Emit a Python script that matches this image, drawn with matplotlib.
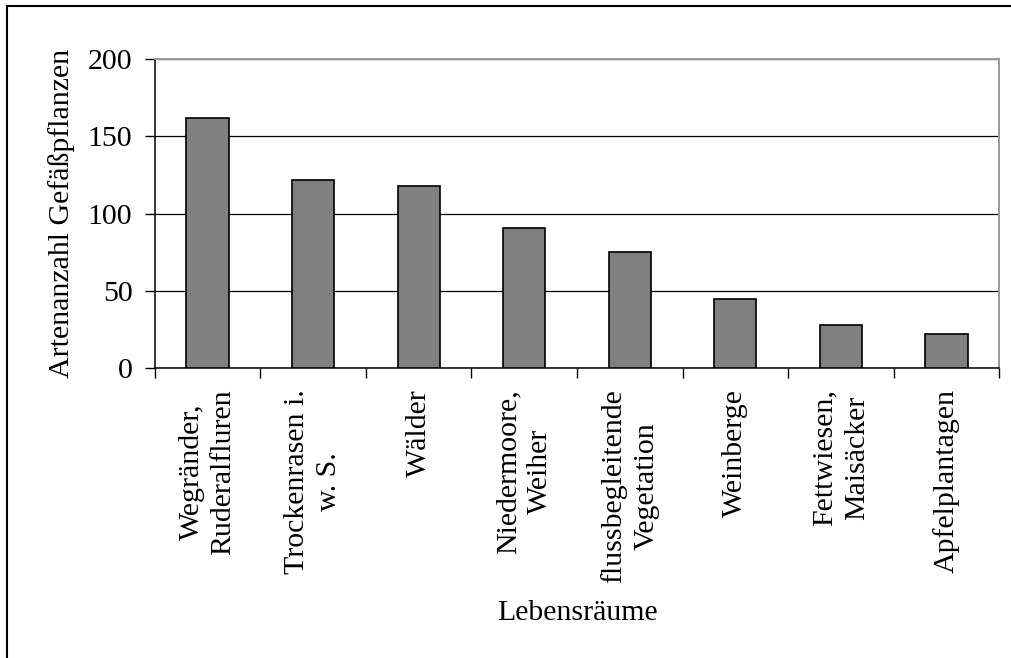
import matplotlib
matplotlib.use("Agg")
import matplotlib.pyplot as plt
from matplotlib.lines import Line2D

categories = ["Wegränder,\nRuderalfluren", "Trockenrasen i.\nw. S.", "Wälder",
              "Niedermoore,\nWeiher", "flussbegleitende\nVegetation", "Weinberge",
              "Fettwiesen,\nMaisäcker", "Apfelplantagen"]
values = [162, 122, 118, 91, 75, 45, 28, 22]
yticks = [0, 50, 100, 150, 200]
ylabel = "Artenanzahl Gefäßpflanzen"
xlabel = "Lebensräume"

plt.rcParams['font.family'] = ['Liberation Serif', 'DejaVu Serif']
FS = 21.5

fig = plt.figure(figsize=(10.11, 6.58), dpi=100)
ax = fig.add_axes([154.7/1011, 1-368.3/658, (999.3-154.7)/1011, (368.3-59)/658])

x = list(range(len(categories)))
ax.bar(x, values, width=0.4, color="#808080", edgecolor="black", linewidth=1.2, zorder=3)
ax.set_xlim(-0.5, len(categories)-0.5)
ax.set_ylim(0, 200)
ax.set_yticks(yticks)
ax.set_yticklabels([str(v) for v in yticks], fontsize=FS)
ax.set_xticks([i + 0.5 for i in range(-1, len(categories))], minor=False)
ax.set_xticklabels([])
ax.set_xticks(x, minor=True)
ax.set_xticklabels(categories, minor=True, rotation=90, fontsize=FS, ma='center', linespacing=1.3)
ax.tick_params(axis='x', which='major', length=7, width=1, direction='out', color='black')
ax.tick_params(axis='x', which='minor', length=0, pad=15)
ax.tick_params(axis='y', length=7, width=1, direction='out', pad=9)

ax.yaxis.grid(True, color='black', linewidth=0.9, zorder=0)
ax.set_axisbelow(True)
for s in ['left', 'bottom']:
    ax.spines[s].set_color('black')
    ax.spines[s].set_linewidth(1.1)
for s in ['top', 'right']:
    ax.spines[s].set_color('#999999')
    ax.spines[s].set_linewidth(1.4)

ax.set_ylabel(ylabel, fontsize=FS, labelpad=9)
fig.text(577/1011, 1-620/658, xlabel, fontsize=FS, ha='center', va='baseline')

fig.add_artist(Line2D([7/1011, 7/1011], [0, 1-6/658], transform=fig.transFigure, color='black', linewidth=1.5))
fig.add_artist(Line2D([7/1011, 1], [1-6/658, 1-6/658], transform=fig.transFigure, color='black', linewidth=1.5))

fig.savefig("out.png", dpi=100)
